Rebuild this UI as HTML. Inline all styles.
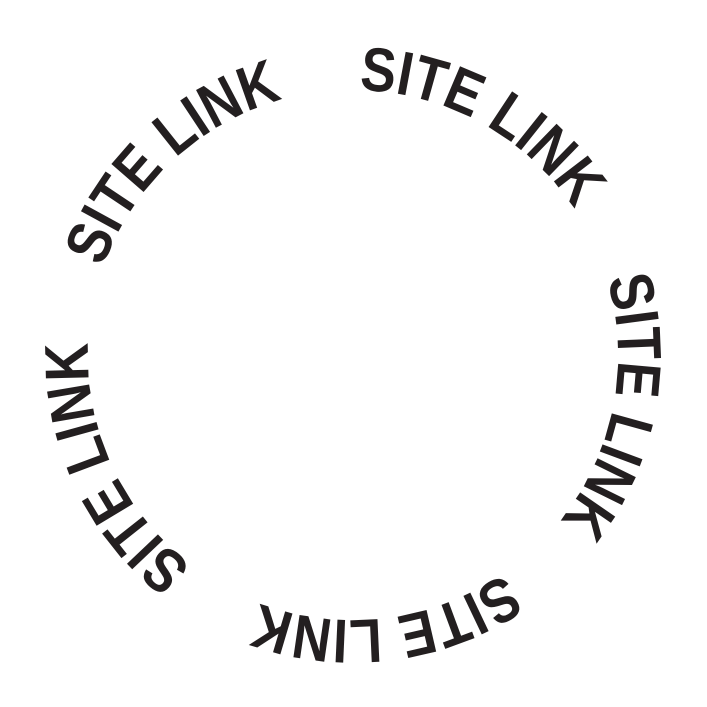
<!DOCTYPE html>
<html><head><meta charset="utf-8"><style>
html,body{margin:0;padding:0;background:#fff;width:707px;height:707px;overflow:hidden}
</style></head><body>
<svg width="707" height="707" viewBox="0 0 707 707">
<defs><path id="arc" d="M353,620 A265,265 0 1 1 353,90 A265,265 0 1 1 353,620"/></defs>
<g id="rings" font-family="'Liberation Sans', sans-serif" font-weight="bold" font-size="62" fill="#231f20"></g>
</svg>
<script>
const labels=["SITE LINK","SITE LINK","SITE LINK","SITE LINK","SITE LINK"];
const angles=[29,101,173,245,317];
const g=document.getElementById('rings');
const NS='http://www.w3.org/2000/svg';
labels.forEach((t,i)=>{
  const grp=document.createElementNS(NS,'g');
  grp.setAttribute('transform','rotate('+angles[i]+' 353 355)');
  const tx=document.createElementNS(NS,'text');
  
  
  tx.setAttribute('textLength','256');
  tx.setAttribute('lengthAdjust','spacingAndGlyphs');
  const tp=document.createElementNS(NS,'textPath');
  tp.setAttribute('href','#arc');
  tp.setAttribute('startOffset','50%');
  tp.setAttribute('text-anchor','middle');
  tp.textContent=t;
  tx.appendChild(tp);grp.appendChild(tx);g.appendChild(grp);
});
</script>
</body></html>
